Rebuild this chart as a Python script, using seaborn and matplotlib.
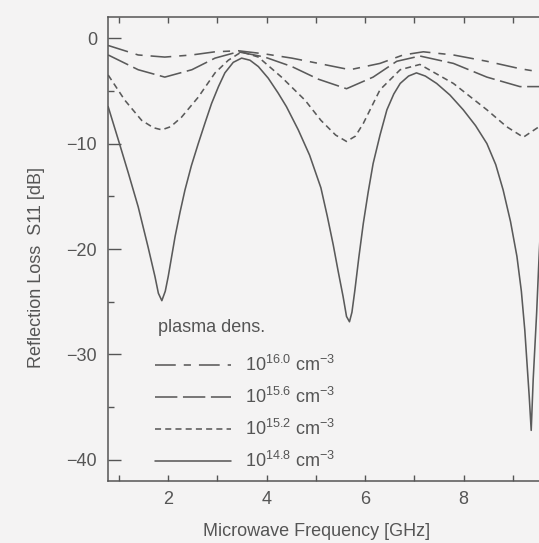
import matplotlib
matplotlib.use("Agg")
import matplotlib.pyplot as plt
import seaborn as sns
from matplotlib.lines import Line2D
from matplotlib.ticker import MultipleLocator

# ---- data ----
freq_148 = [0.78, 0.99, 1.19, 1.39, 1.59, 1.73, 1.80, 1.87, 1.94, 2.00, 2.14, 2.24,
            2.34, 2.47, 2.61, 2.75, 2.88, 3.02, 3.15, 3.32, 3.49, 3.66, 3.83, 4.03,
            4.23, 4.40, 4.64, 4.87, 5.10, 5.23, 5.35, 5.45, 5.55, 5.62, 5.68, 5.73,
            5.79, 5.87, 5.96, 6.06, 6.16, 6.30, 6.44, 6.58, 6.71, 6.88, 7.04, 7.22,
            7.45, 7.72, 7.99, 8.24, 8.47, 8.65, 8.80, 8.95, 9.08, 9.17, 9.24, 9.33,
            9.37, 9.41, 9.48, 9.53, 9.60]
s11_148 = [-6.5, -9.7, -12.8, -16.0, -19.8, -22.6, -24.2, -24.9, -24.0, -22.6, -18.8, -16.5,
           -14.4, -12.1, -10.0, -8.0, -6.2, -4.6, -3.3, -2.3, -1.9, -2.1, -2.7, -3.8,
           -5.2, -6.5, -8.7, -11.1, -14.2, -16.9, -19.6, -22.1, -24.5, -26.4, -26.9, -26.0,
           -23.9, -20.8, -17.6, -14.6, -11.9, -9.2, -6.8, -5.3, -4.3, -3.6, -3.3, -3.6,
           -4.3, -5.4, -6.8, -8.3, -10.0, -12.0, -14.4, -17.4, -20.7, -24.0, -27.7, -34.0,
           -37.2, -32.4, -26.1, -20.7, -14.0]

freq_152 = [0.78, 1.12, 1.46, 1.70, 1.87, 2.05, 2.27, 2.61, 2.95, 3.22, 3.49, 3.83,
            4.30, 4.78, 5.10, 5.40, 5.62, 5.80, 5.96, 6.30, 6.71, 7.11, 7.79, 8.47,
            8.87, 9.21, 9.53, 9.65]
s11_152 = [-3.5, -5.9, -7.8, -8.5, -8.7, -8.4, -7.5, -5.6, -3.3, -2.1, -1.3, -1.8,
           -3.7, -5.9, -7.8, -9.2, -9.8, -9.3, -8.1, -4.9, -3.0, -2.5, -4.3, -6.8,
           -8.4, -9.4, -8.4, -7.6]

freq_156 = [0.78, 1.39, 1.93, 2.48, 2.95, 3.42, 3.96, 4.51, 5.05, 5.62, 6.16, 6.64,
            7.11, 7.79, 8.47, 9.14, 9.53, 9.65]
s11_156 = [-1.6, -3.0, -3.7, -3.0, -1.9, -1.3, -1.8, -2.7, -3.9, -4.8, -3.7, -2.2,
           -1.7, -2.4, -3.7, -4.6, -4.6, -4.5]

freq_160 = [0.78, 1.39, 1.93, 2.48, 2.95, 3.42, 3.96, 4.51, 5.05, 5.69, 6.30, 6.77,
            7.18, 7.79, 8.47, 9.14, 9.53, 9.65]
s11_160 = [-0.7, -1.6, -1.8, -1.6, -1.3, -1.2, -1.5, -1.9, -2.4, -3.0, -2.4, -1.6,
           -1.3, -1.6, -2.2, -2.9, -3.2, -3.3]

series_labels = [r"$10^{16.0}$ cm$^{-3}$", r"$10^{15.6}$ cm$^{-3}$",
                 r"$10^{15.2}$ cm$^{-3}$", r"$10^{14.8}$ cm$^{-3}$"]
legend_title = "plasma dens."
x_ticks = [2, 4, 6, 8]
y_ticks = [0, -10, -20, -30, -40]

# ---- style ----
sns.set_theme(style="ticks")
plt.rcParams["font.family"] = ["Liberation Sans", "DejaVu Sans"]
plt.rcParams["mathtext.fontset"] = "custom"
plt.rcParams["mathtext.rm"] = "Liberation Sans"
plt.rcParams["mathtext.it"] = "Liberation Sans"
plt.rcParams["axes.unicode_minus"] = True

txt = "#555555"
lc = "#5a5a5a"
bg = "#f4f3f3"
lw = 1.15

fig = plt.figure(figsize=(5.39, 5.43), dpi=100, facecolor=bg)
ppx = 49.25
x0, x1 = 0.777, 10.0
W, H = 539.0, 543.0
axw = (x1 - x0) * ppx
ax = fig.add_axes([108 / W, (H - 481) / H, axw / W, 464 / H])
ax.set_facecolor(bg)

styles = [(0, (13, 5, 4.5, 5)), (0, (14, 3.5)), (0, (3.8, 2.6)), "-"]
data = [(freq_160, s11_160), (freq_156, s11_156), (freq_152, s11_152), (freq_148, s11_148)]
handles = []
for (fx, fy), ls in zip(data, styles):
    sns.lineplot(x=fx, y=fy, ax=ax, color=lc, lw=lw, linestyle=ls, sort=False,
                 estimator=None, legend=False)
    handles.append(Line2D([], [], color=lc, lw=lw, linestyle=ls))

ax.set_xlim(x0, x1)
ax.set_ylim(-42, 2)
ax.set_xticks(x_ticks)
ax.xaxis.set_minor_locator(MultipleLocator(1))
ax.set_yticks(y_ticks)
ax.yaxis.set_minor_locator(MultipleLocator(5))
ax.tick_params(axis="x", which="both", direction="in", top=True, length=4, width=1,
               color=txt, labelsize=13, labelcolor=txt, pad=7)
ax.tick_params(axis="y", which="major", direction="in", length=9, width=1,
               color=txt, labelsize=13, labelcolor=txt, pad=8)
ax.tick_params(axis="y", which="minor", direction="in", length=4, width=1, color=txt)
for sp in ax.spines.values():
    sp.set_color(txt)
    sp.set_linewidth(1.1)

ax.set_xlabel("Microwave Frequency [GHz]", fontsize=13, color=txt)
ax.xaxis.set_label_coords((317 - 108) / axw, -(523 - 481) / 464)
ax.set_ylabel("Reflection Loss  S11 [dB]", fontsize=13, color=txt)
ax.yaxis.set_label_coords((45 - 108) / axw, (481 - 268) / 464)

ax.text((158 - 108) / axw, (481 - 327) / 464, legend_title, transform=ax.transAxes,
        ha="left", va="center", fontsize=13, color=txt)
leg = ax.legend(handles, series_labels, loc="upper left",
                bbox_to_anchor=((155 - 108) / axw, (481 - 355) / 464),
                frameon=False, fontsize=13, handlelength=4.2, borderaxespad=0,
                handletextpad=0.8, labelspacing=0.66, borderpad=0)
for t in leg.get_texts():
    t.set_color(txt)

fig.savefig("out.png", dpi=100, facecolor=bg)
